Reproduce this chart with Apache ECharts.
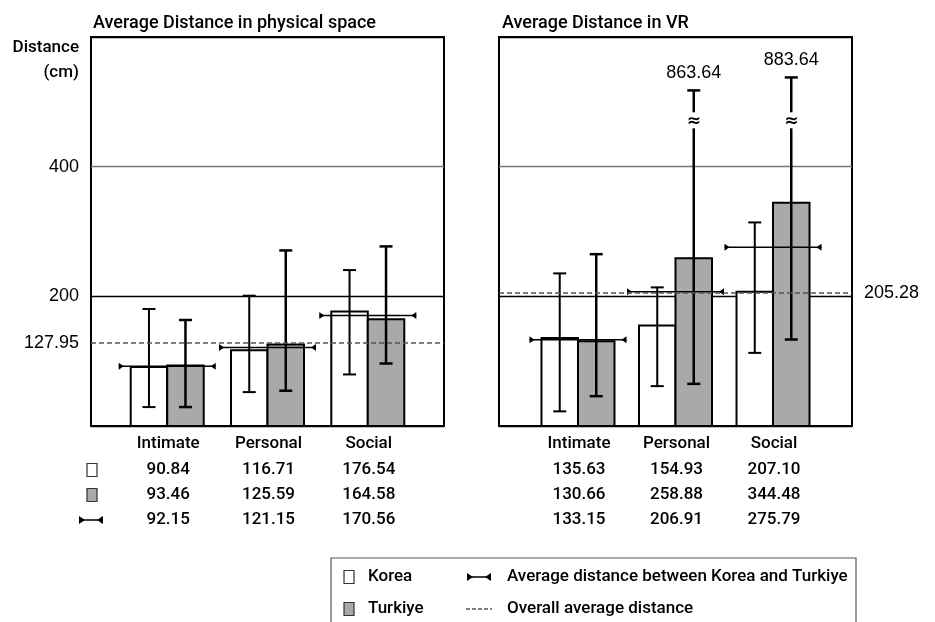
<!DOCTYPE html>
<html><head><meta charset="utf-8">
<script src="https://cdn.jsdelivr.net/npm/echarts@6/dist/echarts.min.js"></script>
<style>html,body{margin:0;padding:0;background:#fff}#c{width:935px;height:622px}</style>
</head><body><div id="c"></div>
<script>
// ---------- data ----------
const categories = ['Intimate', 'Personal', 'Social'];
const yTicks = [200, 400];

const physKorea   = [90.84, 116.71, 176.54];
const physTurkiye = [93.46, 125.59, 164.58];
const physAvg     = [92.15, 121.15, 170.56];
const physKoreaLow    = [29.2, 52.3, 79.5];
const physKoreaHigh   = [180.5, 201.0, 240.5];
const physTurkiyeLow  = [29.2, 54.4, 96.4];
const physTurkiyeHigh = [163.5, 270.8, 277.0];
const physOverall = 127.95;

const vrKorea   = [135.63, 154.93, 207.10];
const vrTurkiye = [130.66, 258.88, 344.48];
const vrAvg     = [133.15, 206.91, 275.79];
const vrKoreaLow    = [22.6, 61.5, 112.8];
const vrKoreaHigh   = [235.4, 213.8, 314.0];
const vrTurkiyeLow  = [46.0, 65.0, 133.4];
const vrTurkiyeHigh = [265.0, 863.64, 883.64];
const vrOverall = 205.28;

// axis break used for the two very long error bars
const BREAK_AT = 471.5;
const BREAK_GAP = 346;
const Y_MAX = 600;

// ---------- styles ----------
const NUM_FONT = "'Liberation Sans', Arial, sans-serif";
const COND_FONT = "Roboto, 'Liberation Sans', sans-serif";
const BW = 36.5;   // bar width px
const AH = 48.5;   // half width of average marker
const GRAY = '#a9a9a9';

function barItem(side, fill) {
  return function (params, api) {
    const i = api.value(0), v = api.value(1);
    const base = api.coord([i, 0]);
    const top = api.coord([i, v]);
    const x = side < 0 ? base[0] - BW : base[0];
    return { type: 'rect', shape: { x: x, y: top[1], width: BW, height: base[1] - top[1] },
      style: { fill: fill, stroke: '#000', lineWidth: 2 } };
  };
}
function errItem(side, lw) {
  return function (params, api) {
    const i = api.value(0), lo = api.value(1), hi = api.value(2);
    const c = api.coord([i, 0]);
    const x = c[0] + side * BW / 2;
    const broken = hi > Y_MAX;
    const shownHi = broken ? hi - BREAK_GAP : hi;
    const yLo = api.coord([i, lo])[1], yHi = api.coord([i, shownHi])[1];
    const st = { stroke: '#000', lineWidth: lw };
    const children = [
      { type: 'line', shape: { x1: x, y1: yLo, x2: x, y2: yHi }, style: st },
      { type: 'line', shape: { x1: x - 6.5, y1: yLo, x2: x + 6.5, y2: yLo }, style: st },
      { type: 'line', shape: { x1: x - 6.5, y1: yHi, x2: x + 6.5, y2: yHi }, style: st }
    ];
    if (broken) {
      const yb = api.coord([i, BREAK_AT])[1];
      children.push({ type: 'rect', shape: { x: x - 6, y: yb - 8, width: 12, height: 16 }, style: { fill: '#fff' } });
      children.push({ type: 'text', style: { text: '≈', x: x, y: yb + 1, align: 'center', verticalAlign: 'middle',
        font: "bold 17px 'DejaVu Sans'", fill: '#000' } });
      children.push({ type: 'text', style: { text: hi.toFixed(2), x: x, y: yHi - 17, align: 'center', verticalAlign: 'middle',
        font: '18px ' + NUM_FONT, fill: '#000' } });
    }
    return { type: 'group', children: children };
  };
}
function avgItem(params, api) {
  const i = api.value(0), v = api.value(1);
  const p = api.coord([i, v]);
  const x0 = p[0] - AH, x1 = p[0] + AH, y = p[1];
  return { type: 'group', children: [
    { type: 'line', shape: { x1: x0, y1: y, x2: x1, y2: y }, style: { stroke: '#000', lineWidth: 1.5 } },
    { type: 'polygon', shape: { points: [[x0, y - 3.5], [x0 + 5, y], [x0, y + 3.5]] }, style: { fill: '#000' } },
    { type: 'polygon', shape: { points: [[x1, y - 3.5], [x1 - 5, y], [x1, y + 3.5]] }, style: { fill: '#000' } }
  ] };
}

function panelSeries(g, korea, turkiye, avg, kLo, kHi, tLo, tHi, overall, labelPos) {
  const idx = categories.map((c, i) => i);
  return [
    { type: 'custom', xAxisIndex: g, yAxisIndex: g, z: 2, renderItem: barItem(-1, '#fff'), data: idx.map(i => [i, korea[i]]) },
    { type: 'custom', xAxisIndex: g, yAxisIndex: g, z: 2, renderItem: barItem(1, GRAY), data: idx.map(i => [i, turkiye[i]]) },
    { type: 'custom', xAxisIndex: g, yAxisIndex: g, z: 3, renderItem: errItem(-1, 2), data: idx.map(i => [i, kLo[i], kHi[i]]) },
    { type: 'custom', xAxisIndex: g, yAxisIndex: g, z: 3, renderItem: errItem(1, 2.5), data: idx.map(i => [i, tLo[i], tHi[i]]) },
    { type: 'custom', xAxisIndex: g, yAxisIndex: g, z: 4, renderItem: avgItem, data: idx.map(i => [i, avg[i]]),
      markLine: { silent: true, symbol: 'none', z: 5,
        lineStyle: { type: [5, 3], color: '#555', width: 1.5 },
        label: { show: true, position: labelPos, distance: 12, formatter: String(overall),
          fontSize: 18, fontFamily: NUM_FONT, color: '#000' },
        data: [{ yAxis: overall }] } }
  ];
}

const chart = echarts.init(document.getElementById('c'), null, { renderer: 'canvas' });

const yAxisBase = (g, showLabels) => ({
  type: 'value', gridIndex: g, min: 0, max: Y_MAX, interval: 200,
  axisLine: { show: false }, axisTick: { show: false },
  axisLabel: { show: showLabels, margin: 12, fontSize: 18, fontFamily: NUM_FONT, color: '#000',
    formatter: v => (yTicks.indexOf(v) >= 0 ? String(v) : '') },
  splitLine: { show: true, lineStyle: { color: ['#000', '#000', '#777', '#000'], width: 1.3 } }
});

chart.setOption({
  animation: false,
  backgroundColor: '#fff',
  title: [
    { text: 'Average Distance in physical space', left: 88, top: 9,
      textStyle: { fontSize: 18, fontWeight: 500, fontFamily: COND_FONT, color: '#000' } },
    { text: 'Average Distance in VR', left: 497, top: 9,
      textStyle: { fontSize: 18, fontWeight: 500, fontFamily: COND_FONT, color: '#000' } }
  ],
  grid: [
    { left: 91, top: 37, width: 353, height: 389, show: true, borderColor: '#000', borderWidth: 2, backgroundColor: 'transparent' },
    { left: 499, top: 37, width: 353, height: 389, show: true, borderColor: '#000', borderWidth: 2, backgroundColor: 'transparent' }
  ],
  xAxis: [
    { type: 'value', gridIndex: 0, min: -0.76, max: 2.76, show: false },
    { type: 'value', gridIndex: 1, min: -0.81, max: 2.81, show: false }
  ],
  yAxis: [ yAxisBase(0, true), yAxisBase(1, false) ],
  series: [].concat(
    panelSeries(0, physKorea, physTurkiye, physAvg, physKoreaLow, physKoreaHigh, physTurkiyeLow, physTurkiyeHigh, physOverall, 'start'),
    panelSeries(1, vrKorea, vrTurkiye, vrAvg, vrKoreaLow, vrKoreaHigh, vrTurkiyeLow, vrTurkiyeHigh, vrOverall, 'end')
  )
});

// ---------- table under the panels + legend ----------
const fmt = v => v.toFixed(2);
const graphics = [];
const txt = (text, x, y, align, size, font) => ({
  type: 'text', silent: true, x: x, y: y,
  style: { text: text, align: align || 'center', verticalAlign: 'middle',
    font: (font || ('500 ' + (size || 17) + 'px ' + COND_FONT)), fill: '#000' } });

graphics.push(txt('Distance', 79, 48, 'right', 17));
graphics.push(txt('(cm)', 79, 73, 'right', 17));

const rowsY = [444, 470, 495, 520];
const panels = [
  { g: 0, rows: [physKorea, physTurkiye, physAvg] },
  { g: 1, rows: [vrKorea, vrTurkiye, vrAvg] }
];
panels.forEach(p => {
  categories.forEach((c, i) => {
    const x = chart.convertToPixel({ xAxisIndex: p.g, yAxisIndex: p.g }, [i, 0])[0] + 1;
    graphics.push(txt(c, x, rowsY[0], 'center', 17));
    p.rows.forEach((r, k) => graphics.push(txt(fmt(r[i]), x, rowsY[k + 1], 'center', 17)));
  });
});

function squareIcon(cx, cy, fill) {
  return { type: 'rect', silent: true, shape: { x: cx - 5, y: cy - 6.5, width: 10, height: 13 },
    style: { fill: fill, stroke: '#333', lineWidth: 1.2 } };
}
function avgIcon(cx, cy, hw) {
  return { type: 'group', silent: true, children: [
    { type: 'line', shape: { x1: cx - hw, y1: cy, x2: cx + hw, y2: cy }, style: { stroke: '#000', lineWidth: 1.5 } },
    { type: 'polygon', shape: { points: [[cx - hw, cy - 4], [cx - hw + 6, cy], [cx - hw, cy + 4]] }, style: { fill: '#000' } },
    { type: 'polygon', shape: { points: [[cx + hw, cy - 4], [cx + hw - 6, cy], [cx + hw, cy + 4]] }, style: { fill: '#000' } }
  ] };
}
graphics.push(squareIcon(92, rowsY[1], '#fff'));
graphics.push(squareIcon(92, rowsY[2], GRAY));
graphics.push(avgIcon(91, rowsY[3], 12));

// legend box
graphics.push({ type: 'rect', silent: true, shape: { x: 331, y: 558, width: 525, height: 80 },
  style: { fill: '#fff', stroke: '#555', lineWidth: 1.2 } });
graphics.push(squareIcon(349, 577, '#fff'));
graphics.push(squareIcon(349, 609, GRAY));
graphics.push(txt('Korea', 368, 577, 'left', 17));
graphics.push(txt('Turkiye', 368, 609, 'left', 17));
graphics.push(avgIcon(479, 577, 12));
graphics.push({ type: 'line', silent: true, shape: { x1: 466, y1: 609, x2: 492, y2: 609 },
  style: { stroke: '#000', lineWidth: 1.2, lineDash: [4, 2] } });
graphics.push(txt('Average distance between Korea and Turkiye', 507, 577, 'left', 17));
graphics.push(txt('Overall average distance', 507, 609, 'left', 17));

chart.setOption({ graphic: graphics });
</script>
</body></html>
